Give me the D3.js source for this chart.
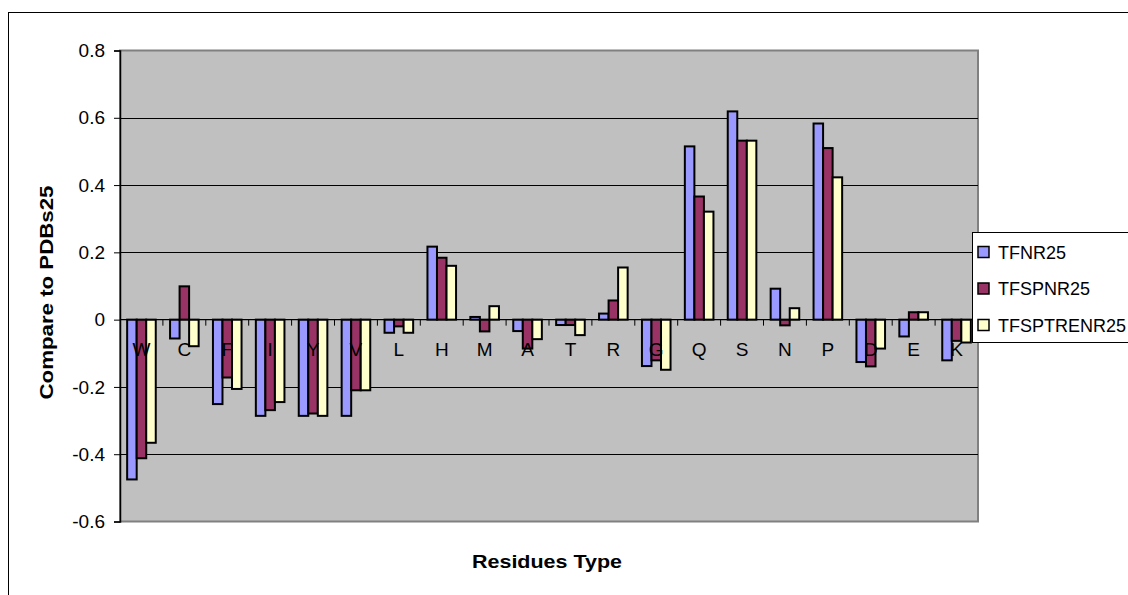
<!DOCTYPE html>
<html>
<head>
<meta charset="utf-8">
<script src="https://d3js.org/d3.v7.min.js"></script>
<style>
  html, body { margin: 0; padding: 0; background: #fff; }
  svg { display: block; font-family: "Liberation Sans", Arial, sans-serif; }
</style>
</head>
<body>
<svg id="chart" width="1128" height="595"></svg>
<script>
// residue categories along the x axis
const residues = ["W", "C", "F", "I", "Y", "V", "L", "H", "M", "A", "T", "R", "G", "Q", "S", "N", "P", "D", "E", "K"];

// series values
const tfnr25 = [-0.475, -0.056, -0.251, -0.286, -0.286, -0.286, -0.039, 0.217, 0.008, -0.034, -0.016, 0.018, -0.138, 0.515, 0.619, 0.092, 0.583, -0.126, -0.050, -0.121];
const tfspnr25 = [-0.412, 0.099, -0.172, -0.269, -0.279, -0.210, -0.020, 0.184, -0.035, -0.086, -0.016, 0.057, -0.121, 0.366, 0.532, -0.017, 0.510, -0.139, 0.022, -0.063];
const tfsptrenr25 = [-0.366, -0.079, -0.206, -0.245, -0.286, -0.210, -0.039, 0.160, 0.040, -0.058, -0.046, 0.155, -0.149, 0.321, 0.532, 0.034, 0.423, -0.086, 0.022, -0.068];

const seriesNames = ["TFNR25", "TFSPNR25", "TFSPTRENR25"];
const seriesColors = ["#9999FF", "#993366", "#FFFFCC"];
const yTicks = [0.8, 0.6, 0.4, 0.2, 0, -0.2, -0.4, -0.6];
const yTickLabels = ["0.8", "0.6", "0.4", "0.2", "0", "-0.2", "-0.4", "-0.6"];

const series = [tfnr25, tfspnr25, tfsptrenr25];

const svg = d3.select("#chart");

const plot = { left: 120, right: 978, top: 50.5, bottom: 521.5 };

// outer chart border (runs off the right and bottom of the picture)
svg.append("rect")
    .attr("x", 8.5).attr("y", 12.5)
    .attr("width", 1300).attr("height", 700)
    .attr("fill", "#fff").attr("stroke", "#000").attr("stroke-width", 1);

const x = d3.scaleBand()
    .domain(residues)
    .range([plot.left, plot.right])
    .paddingInner(0)
    .paddingOuter(0);

// gap width 150% like the spreadsheet default
const xInner = d3.scaleBand()
    .domain(d3.range(series.length))
    .range([x.bandwidth() * 0.75 / 4.5, x.bandwidth() * 3.75 / 4.5]);

const y = d3.scaleLinear()
    .domain([-0.6, 0.8])
    .range([plot.bottom, plot.top]);

// plot area background
svg.append("rect")
    .attr("x", plot.left).attr("y", plot.top)
    .attr("width", plot.right - plot.left).attr("height", plot.bottom - plot.top)
    .attr("fill", "#C0C0C0")
    .attr("stroke", "#808080").attr("stroke-width", 2);

// gridlines
svg.append("g")
    .selectAll("line")
    .data(yTicks.filter(d => d !== 0.8 && d !== -0.6 && d !== 0))
    .enter().append("line")
    .attr("x1", plot.left).attr("x2", plot.right)
    .attr("y1", d => Math.round(y(d)) + 0.5)
    .attr("y2", d => Math.round(y(d)) + 0.5)
    .attr("stroke", "#000").attr("stroke-width", 1);

// y axis
const yAxis = svg.append("g")
    .attr("transform", "translate(" + plot.left + ",0)")
    .call(d3.axisLeft(y).tickValues(yTicks).tickSize(6).tickPadding(9)
        .tickFormat((d, i) => yTickLabels[i]));
yAxis.select(".domain").attr("stroke", "#000").attr("stroke-width", 1.5);
yAxis.selectAll(".tick line").attr("stroke", "#000");
yAxis.selectAll(".tick text")
    .attr("font-size", 19)
    .attr("fill", "#000")
    .attr("font-family", "Liberation Sans, Arial, sans-serif");

// bars
const groups = svg.append("g")
    .selectAll("g")
    .data(residues)
    .enter().append("g")
    .attr("transform", d => "translate(" + x(d) + ",0)");

groups.selectAll("rect")
    .data((d, i) => series.map((s, k) => ({ k: k, v: s[i] })))
    .enter().append("rect")
    .attr("x", d => xInner(d.k))
    .attr("width", xInner.bandwidth())
    .attr("y", d => y(Math.max(0, d.v)))
    .attr("height", d => Math.abs(y(d.v) - y(0)))
    .attr("fill", d => seriesColors[d.k])
    .attr("stroke", "#000")
    .attr("stroke-width", 2);

// category axis on the zero line
const xAxis = svg.append("g")
    .attr("transform", "translate(0," + y(0) + ")");
xAxis.append("line")
    .attr("x1", plot.left).attr("x2", plot.right)
    .attr("stroke", "#000").attr("stroke-width", 1.2);
xAxis.selectAll(".tk")
    .data(residues.slice(1))
    .enter().append("line")
    .attr("class", "tk")
    .attr("x1", d => x(d)).attr("x2", d => x(d))
    .attr("y1", 0).attr("y2", 6)
    .attr("stroke", "#000");
xAxis.selectAll("text")
    .data(residues)
    .enter().append("text")
    .attr("x", d => x(d) + x.bandwidth() / 2)
    .attr("y", 36)
    .attr("text-anchor", "middle")
    .attr("font-size", 19)
    .attr("fill", "#000")
    .text(d => d);

// axis titles
svg.append("text")
    .attr("x", (plot.left + plot.right) / 2 - 2)
    .attr("y", 567.5)
    .attr("text-anchor", "middle")
    .attr("font-size", 19)
    .attr("font-weight", "bold")
    .attr("textLength", 150)
    .attr("lengthAdjust", "spacingAndGlyphs")
    .text("Residues Type");

svg.append("text")
    .attr("transform", "translate(52.5,292.5) rotate(-90)")
    .attr("text-anchor", "middle")
    .attr("font-size", 19)
    .attr("font-weight", "bold")
    .attr("textLength", 214)
    .attr("lengthAdjust", "spacingAndGlyphs")
    .text("Compare to PDBs25");

// legend
const legend = svg.append("g");
legend.append("rect")
    .attr("x", 972.5).attr("y", 232.5)
    .attr("width", 300).attr("height", 110)
    .attr("fill", "#fff").attr("stroke", "#000").attr("stroke-width", 1);

const items = legend.selectAll("g")
    .data(seriesNames)
    .enter().append("g")
    .attr("transform", (d, i) => "translate(978," + (252 + i * 36.5) + ")");
items.append("rect")
    .attr("x", 0).attr("y", -5.5)
    .attr("width", 11).attr("height", 11)
    .attr("fill", (d, i) => seriesColors[i])
    .attr("stroke", "#000").attr("stroke-width", 1.5);
items.append("text")
    .attr("x", 20).attr("y", 6.5)
    .attr("font-size", 18)
    .attr("fill", "#000")
    .text(d => d);
</script>
</body>
</html>
